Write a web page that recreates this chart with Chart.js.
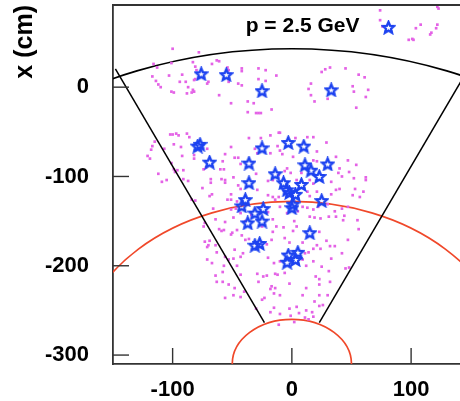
<!DOCTYPE html>
<html>
<head>
<meta charset="utf-8">
<script src="https://cdn.jsdelivr.net/npm/chart.js@4.4.1/dist/chart.umd.min.js"></script>
<style>
    html, body { margin: 0; padding: 0; background: #fff; }
    #wrap { width: 460px; height: 401px; }
</style>
</head>
<body>
<div id="wrap"><canvas id="trackChart"></canvas></div>
<script>
// hits (magenta) and reconstructed points (blue stars), x/y in cm
const dots = [
    [-100,43],[-113,22],[-116,26],[-78,39],[-101,27],[-83,28],[-67,26],[-63,30],[-61,29],[-117,12],
    [-103,13],[-92,14],[-114,7],[-112,3],[-110,0],[-101,-5],[-99,-6],[-94,6],[-89,6],[-87,0],
    [-83,-3],[-82,-5],[-88,-7],[-84,-6],[-81,23],[-80,19],[-81,9],[-82,8],[-78,11],[-70,6],
    [-71,4],[-61,-9],[-54,22],[-53,19],[-53,6],[-53,9],[-51,-18],[-45,4],[-42,2],[-42,21],
    [-42,18],[-28,21],[-22,19],[-28,9],[-22,7],[-13,13],[-37,-16],[-32,-18],[-37,-28],[-30,-29],
    [-28,-29],[-26,-29],[-17,-25],
    [74,86],[74,75],[76,68],[122,90],[123,88],[104,66],[108,70],[122,70],[121,66],[117,61],
    [116,59],[98,53],[101,54],[102,53],[25,17],[28,20],[32,22],[45,21],[56,14],[61,11],
    [16,4],[14,-2],[16,-9],[19,-16],[30,-13],[51,1],[52,-5],[64,-3],[62,-11],[54,-23],
    [-102,-53],[-100,-53],[-97,-52],[-95,-54],[-88,-52],[-86,-56],[-115,-61],[-117,-66],[-118,-70],[-121,-77],
    [-119,-80],[-99,-64],[-93,-67],[-107,-69],[-82,-76],[-82,-80],[-92,-77],[-71,-69],[-112,-97],[-109,-106],
    [-105,-104],[-101,-85],[-99,-92],[-98,-95],[-96,-93],[-91,-93],[-91,-103],[-87,-105],[-74,-92],[-72,-90],
    [-75,-113],[-84,-126],[-81,-127],[-69,-122],[-67,-120],[-68,-107],[-68,-103],[-60,-92],[-56,-75],[-58,-83],
    [-51,-67],[-57,-92],[-59,-103],[-56,-104],[-56,-107],[-49,-101],[-48,-79],[-45,-79],[-43,-86],[-51,-120],
    [-51,-126],[-54,-126],[-46,-128],[-45,-110],[-43,-114],[-36,-57],[-26,-57],[-31,-69],[-29,-74],[-30,-97],
    [-29,-115],[-66,-136],[-64,-148],[-56,-151],[-49,-146],[-73,-152],[-51,-137],[-43,-141],[-39,-150],[-34,-143],
    [-47,-136],
    [-18,-54],[-11,-51],[-10,-51],[13,-56],[18,-56],[3,-57],[29,-62],[-12,-66],[-10,-71],[-8,-75],
    [-18,-74],[1,-78],[21,-72],[37,-78],[47,-82],[54,-87],[40,-91],[21,-83],[18,-82],[-4,-91],
    [-6,-94],[-1,-96],[8,-96],[-11,-98],[-20,-105],[-16,-104],[4,-104],[15,-104],[18,-108],[39,-96],
    [42,-100],[33,-106],[48,-95],[52,-102],[62,-101],[62,-104],[37,-115],[40,-114],[53,-114],[60,-117],
    [51,-121],[57,-123],[33,-120],[21,-117],[13,-117],[15,-122],[-16,-123],[-11,-123],[-20,-121],[-14,-126],
    [-10,-134],[9,-134],[13,-135],[18,-137],[22,-134],[30,-131],[42,-136],[47,-134],[36,-139],[15,-145],
    [19,-146],[24,-147],[31,-145],[37,-145],[44,-144],[55,-149],[43,-149],[5,-139],[-4,-141],[2,-150],
    [-16,-148],[-20,-140],
    [-74,-156],[-61,-159],[-59,-161],[-57,-160],[-73,-173],[-69,-172],[-70,-177],[-71,-179],[-64,-177],[-63,-185],
    [-71,-193],[-67,-197],[-64,-211],[-63,-218],[-58,-218],[-58,-207],[-57,-200],[-56,-190],[-53,-193],[-49,-192],
    [-51,-165],[-50,-163],[-46,-160],[-42,-166],[-39,-171],[-36,-170],[-48,-182],[-43,-190],[-41,-186],[-46,-200],
    [-43,-210],[-53,-221],[-48,-225],[-56,-236],[-49,-233],[-43,-235],[-40,-229],[-30,-248],[-29,-209],[-28,-218],
    [-25,-156],[-16,-162],[-13,-156],[-7,-157],[1,-161],[4,-156],[23,-162],[56,-159],[-17,-171],[-21,-176],
    [-6,-169],[-2,-174],[9,-174],[29,-172],[32,-178],[36,-178],[47,-171],[24,-181],[18,-181],[21,-177],
    [11,-186],[14,-185],[42,-186],[-20,-191],[-15,-197],[-10,-195],[-21,-211],[-24,-212],[-14,-209],[-12,-210],
    [-6,-208],[9,-193],[12,-200],[18,-195],[25,-201],[31,-206],[33,-192],[45,-203],[48,-202],[20,-212],
    [23,-215],[23,-221],[32,-218],[-17,-223],[-18,-226],[-14,-225],[-15,-231],[-2,-220],[12,-225],[9,-233],
    [23,-233],[30,-233],[-10,-233],[-23,-236],[-25,-238],[-2,-248],[4,-246],[6,-253],[12,-250],[17,-252],
    [26,-244],[19,-240],[23,-245],[-15,-247],[-18,-252],[-10,-254],[-1,-256],[11,-258],[18,-257],[-11,-266],
    [2,-263],[14,-260]
];

const stars = [
    [81,67],[-76,15],[-55,14],[-25,-4],[33,-3],[-79,-66],[-77,-64],[-69,-84],[-25,-68],[-3,-62],
    [10,-66],[-36,-85],[11,-87],[16,-93],[30,-86],[-14,-97],[23,-100],[-36,-107],[-7,-107],[8,-109],
    [-4,-115],[-2,-118],[3,-120],[-39,-126],[-42,-133],[25,-127],[1,-131],[0,-135],[-24,-136],[-31,-141],
    [-37,-152],[-25,-150],[15,-163],[-31,-177],[-27,-175],[-3,-188],[5,-185],[3,-193],[-4,-196]
];

// detector outline
const wedgeLeft = [[-23, -263.6], [-148, 20.6]];
const wedgeRight = [[23, -263.6], [148, 20.6]];
const arcCenter = [0, -310];
const arcRadii = [50, 182, 353];
const arcColors = ['#f0482a', '#f0482a', '#000000'];

const xTicks = [-100, 0, 100];
const yTicks = [-300, -200, -100, 0];
const momentumLabel = 'p = 2.5 GeV';
const labelPos = [9, 61.5];

const toXY = arr => arr.map(p => ({ x: p[0], y: p[1] }));
const FONT = '"Liberation Sans", Arial, sans-serif';

function starImage(size, color) {
    const c = document.createElement('canvas');
    c.width = size;
    c.height = size;
    const g = c.getContext('2d');
    const cx = size / 2, cy = size / 2 + 0.5;
    const R = size / 2 - 1.5, r = R * 0.45;
    g.beginPath();
    for (let i = 0; i < 10; i++) {
        const a = -Math.PI / 2 + i * Math.PI / 5;
        const rad = i % 2 ? r : R;
        g.lineTo(cx + rad * Math.cos(a), cy + rad * Math.sin(a));
    }
    g.closePath();
    g.strokeStyle = color;
    g.lineWidth = 2.3;
    g.stroke();
    return c;
}

// no label overhang padding, so the plot box stays where the frame is
function noPad(s) {
    s.paddingTop = 0;
    s.paddingBottom = 0;
    s.paddingLeft = 0;
    s.paddingRight = 0;
}

const detectorPlugin = {
    id: 'detector',
    beforeDatasetsDraw(chart) {
        const { ctx, chartArea, scales: { x, y } } = chart;
        const cx = x.getPixelForValue(arcCenter[0]);
        const cy = y.getPixelForValue(arcCenter[1]);
        ctx.save();
        ctx.beginPath();
        ctx.rect(chartArea.left, chartArea.top, chartArea.right - chartArea.left, chartArea.bottom - chartArea.top);
        ctx.clip();
        arcRadii.forEach((r, i) => {
            const rx = Math.abs(x.getPixelForValue(arcCenter[0] + r) - cx);
            const ry = Math.abs(y.getPixelForValue(arcCenter[1] + r) - cy);
            ctx.beginPath();
            ctx.ellipse(cx, cy, rx, ry, 0, Math.PI, 2 * Math.PI);
            ctx.strokeStyle = arcColors[i];
            ctx.lineWidth = 1.7;
            ctx.stroke();
        });
        ctx.restore();
    },
    afterDraw(chart) {
        const { ctx, chartArea, scales: { x, y } } = chart;
        ctx.save();
        ctx.strokeStyle = '#333';
        ctx.lineWidth = 1.8;
        // top frame line
        ctx.beginPath();
        ctx.moveTo(chartArea.left, chartArea.top);
        ctx.lineTo(chartArea.right, chartArea.top);
        ctx.stroke();
        // inward tick marks
        ctx.lineWidth = 1.4;
        yTicks.forEach(v => {
            const py = y.getPixelForValue(v);
            ctx.beginPath();
            ctx.moveTo(chartArea.left, py);
            ctx.lineTo(chartArea.left + 16, py);
            ctx.stroke();
        });
        xTicks.forEach(v => {
            const px = x.getPixelForValue(v);
            ctx.beginPath();
            ctx.moveTo(px, chartArea.bottom);
            ctx.lineTo(px, chartArea.bottom - 16);
            ctx.stroke();
        });
        ctx.fillStyle = '#000';
        ctx.font = 'bold 21px ' + FONT;
        ctx.textAlign = 'center';
        ctx.textBaseline = 'alphabetic';
        ctx.fillText(momentumLabel, x.getPixelForValue(labelPos[0]), y.getPixelForValue(labelPos[1]));
        ctx.restore();
    }
};

document.addEventListener('DOMContentLoaded', () => {
    const ctx = document.getElementById('trackChart').getContext('2d');
    new Chart(ctx, {
        type: 'scatter',
        data: {
            datasets: [
                {
                    label: 'hits',
                    data: toXY(dots),
                    pointStyle: 'rect',
                    pointRadius: 1.9,
                    backgroundColor: '#e462e6',
                    borderWidth: 0,
                    order: 3
                },
                {
                    label: 'wedge left',
                    type: 'line',
                    data: toXY(wedgeLeft),
                    borderColor: '#000',
                    borderWidth: 1.5,
                    pointRadius: 0,
                    fill: false,
                    order: 2
                },
                {
                    label: 'wedge right',
                    type: 'line',
                    data: toXY(wedgeRight),
                    borderColor: '#000',
                    borderWidth: 1.5,
                    pointRadius: 0,
                    fill: false,
                    order: 2
                },
                {
                    label: 'points',
                    data: toXY(stars),
                    pointStyle: starImage(15, '#1c42f0'),
                    pointRadius: 7,
                    order: 1
                }
            ]
        },
        options: {
            responsive: true,
            maintainAspectRatio: false,
            animation: false,
            layout: { autoPadding: false, padding: { top: 5, right: 0, left: 0, bottom: 0 } },
            plugins: {
                legend: { display: false },
                tooltip: { enabled: false }
            },
            scales: {
                x: {
                    type: 'linear',
                    min: -150,
                    max: 141,
                    afterBuildTicks: s => { s.ticks = xTicks.map(v => ({ value: v })); },
                    afterFit: s => { s.height = 37; noPad(s); },
                    ticks: {
                        color: '#000',
                        padding: 13,
                        maxRotation: 0,
                        autoSkip: false,
                        font: { family: FONT, size: 22, weight: 'bold' }
                    },
                    grid: { drawOnChartArea: false, drawTicks: false },
                    border: { color: '#333', width: 1.8 }
                },
                y: {
                    type: 'linear',
                    min: -310,
                    max: 92,
                    afterBuildTicks: s => { s.ticks = yTicks.map(v => ({ value: v })); },
                    afterFit: s => { s.width = 113; noPad(s); },
                    ticks: {
                        color: '#000',
                        padding: 24,
                        autoSkip: false,
                        font: { family: FONT, size: 22, weight: 'bold' }
                    },
                    title: {
                        display: true,
                        text: 'x (cm)',
                        align: 'end',
                        color: '#000',
                        padding: { top: 10, bottom: 0 },
                        font: { family: FONT, size: 25, weight: 'bold' }
                    },
                    grid: { drawOnChartArea: false, drawTicks: false },
                    border: { color: '#333', width: 1.8 }
                }
            }
        },
        plugins: [detectorPlugin]
    });
});
</script>
</body>
</html>
